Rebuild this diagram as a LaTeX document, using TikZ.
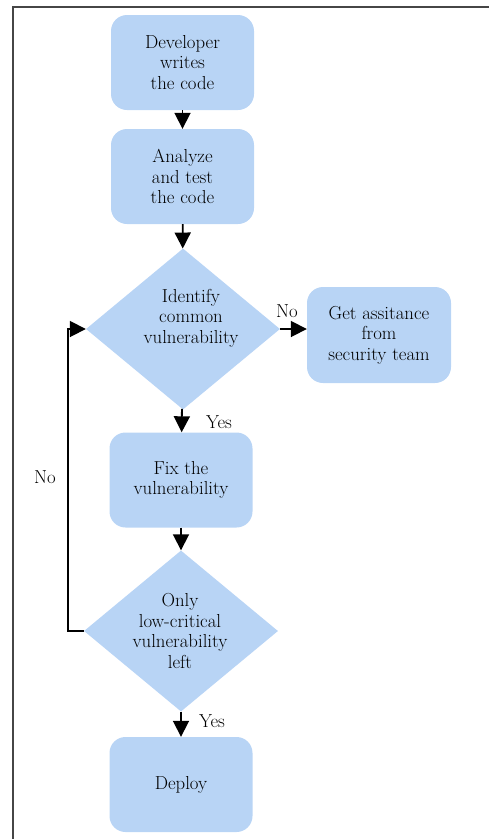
\documentclass[tikz,border=0pt]{standalone}
\usetikzlibrary{shapes.geometric,arrows.meta}
\definecolor{boxblue}{RGB}{184,212,245}
\definecolor{framegray}{RGB}{70,70,70}
\begin{document}
\begin{tikzpicture}[x=1pt,y=-1pt,
  every node/.style={font=\fontsize{18.8}{20.5}\selectfont},
  procbox/.style={fill=boxblue, rounded corners=16pt, minimum width=143pt, minimum height=95pt, inner sep=0pt, align=center},
  decbox/.style={diamond, fill=boxblue, minimum width=194pt, minimum height=161pt, inner sep=0pt},
  txt/.style={align=center, inner sep=0pt},
  flow/.style={line width=1.8pt, -{Triangle[width=16pt,length=16pt]}},
  lbl/.style={inner sep=0pt}]
\useasboundingbox (0,0) rectangle (489,839);
\draw[framegray, line width=2pt] (13,839) -- (13,6.5) -- (489,6.5);
\node[procbox] (dev) at (182.5,62.5) {Developer\\writes\\the code};
\node[procbox] (ana) at (182.5,176.5) {Analyze\\and test\\the code};
\node[decbox] (dec1) at (183,329) {};
\node[txt] (dec1t) at (191,318) {Identify\\common\\vulnerability};
\node[procbox, minimum width=144pt, minimum height=96pt] (help) at (379,335) {Get assitance\\from\\security team};
\node[procbox] (fix) at (181,480) {Fix the\\vulnerability};
\node[decbox] (dec2) at (181,631) {};
\node[txt] (dec2t) at (180,631) {Only\\low-critical\\vulnerability\\left};
\node[procbox] (dep) at (181,784.5) {Deploy};
\draw[flow] (dev) -- (ana);
\draw[flow] (ana) -- (dec1);
\draw[flow] (dec1.east) -- (dec1.east -| help.west);
\draw[flow] (dec1) -- (fix);
\draw[flow] (fix) -- (dec2);
\draw[flow] (dec2) -- (dep);
\coordinate (loopc) at (68,631);
\draw[flow] (dec2.west) -- (loopc) |- (dec1.west);
\node[lbl] (no1) at (287,311) {No};
\node[lbl] (yes1) at (219,422) {Yes};
\node[lbl] (no2) at (45,477) {No};
\node[lbl] (yes2) at (212,721) {Yes};
\end{tikzpicture}
\end{document}
